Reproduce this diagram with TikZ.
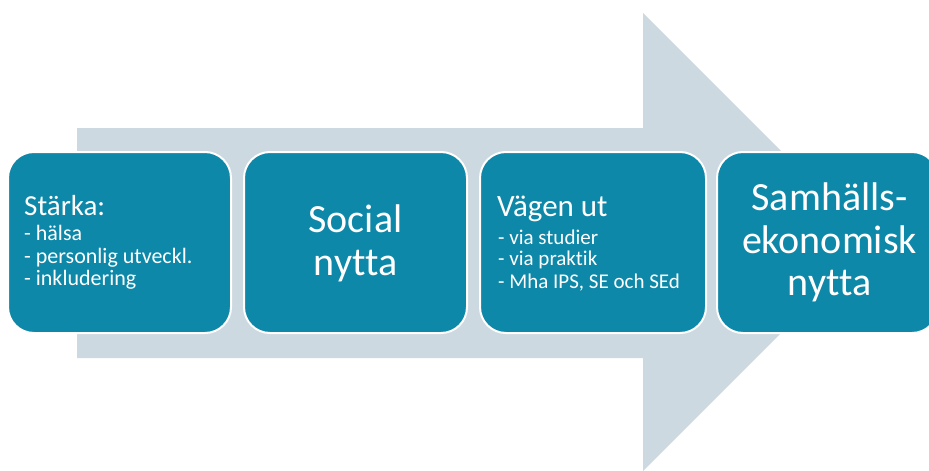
\documentclass[tikz,border=0pt]{standalone}
\usepackage{fontspec}
\setmainfont{Carlito}[RawFeature={-liga;-clig;-dlig}]
\definecolor{teal1}{HTML}{0E88A8}
\definecolor{arrowc}{HTML}{CCD9E0}
\begin{document}
\begin{tikzpicture}[x=1pt,y=-1pt,
  box/.style={fill=teal1,draw=white,line width=2pt,rounded corners=26pt},
  txt/.style={text=white,inner sep=0pt,anchor=base west},
  ctxt/.style={text=white,inner sep=0pt,anchor=base},
  head/.style={font=\fontsize{29}{29}\selectfont},
  sub/.style={font=\fontsize{22}{22}\selectfont},
  big/.style={font=\fontsize{40}{40}\selectfont}]
\useasboundingbox (0,0) rectangle (929,471);
% big arrow
\fill[arrowc] (77,128) -- (643,128) -- (643,13) -- (872,242) -- (643,471) -- (643,358) -- (77,358) -- cycle;
% boxes
\draw[box] (8,152) rectangle (231,333);
\draw[box] (244,152) rectangle (467,333);
\draw[box] (480,152) rectangle (706,333);
\draw[box] (717,152) rectangle (938,333);
% box 1 text
\node[txt,head] (s1) at (24,215) {Stärka:};
\node[txt,sub] (s2) at (24,240.5) {- hälsa};
\node[txt,sub] (s3) at (24,263.5) {- personlig utveckl.};
\node[txt,sub] (s4) at (24,285) {- inkludering};
% box 2 text
\node[ctxt,big] (n1) at (355.5,232) {Social};
\node[ctxt,big] (n2) at (355.5,275) {nytta};
% box 3 text
\node[txt,head,font=\fontsize{31}{31}\selectfont] (v1) at (497,216.5) {Vägen ut};
\node[txt,sub,font=\fontsize{21}{21}\selectfont] (v2) at (498,244) {- via studier};
\node[txt,sub,font=\fontsize{21}{21}\selectfont] (v3) at (498,265.5) {- via praktik};
\node[txt,sub,font=\fontsize{21}{21}\selectfont] (v4) at (498,288) {- Mha IPS, SE och SEd};
% box 4 text
\node[ctxt,big] (e1) at (829.5,210) {Samhälls-};
\node[ctxt,big] (e2) at (829.5,253) {ekonomisk};
\node[ctxt,big] (e3) at (829.5,295.5) {nytta};
\end{tikzpicture}
\end{document}
